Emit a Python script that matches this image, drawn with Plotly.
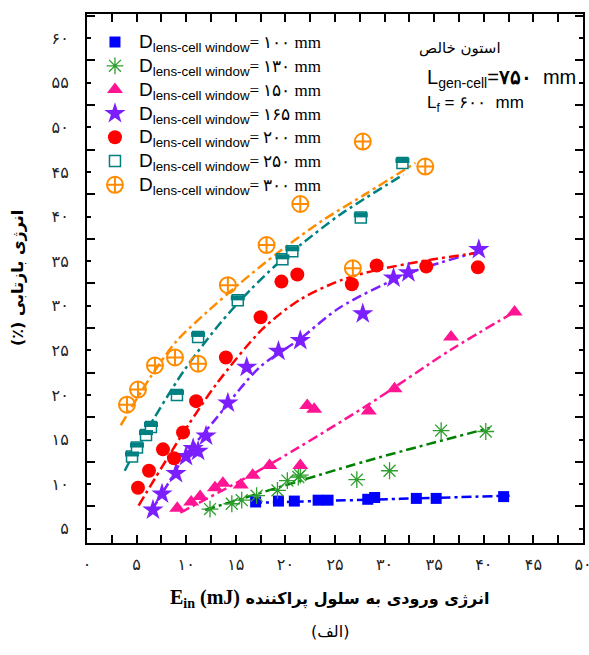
import plotly.graph_objects as go

# ---------------- data ----------------
x_tick_vals = [0, 5, 10, 15, 20, 25, 30, 35, 40, 45, 50]
x_tick_text = ['۰', '۵', '۱۰', '۱۵', '۲۰', '۲۵', '۳۰', '۳۵', '۴۰', '۴۵', '۵۰']
y_tick_vals = [5, 10, 15, 20, 25, 30, 35, 40, 45, 50, 55, 60]
y_tick_text = ['۵', '۱۰', '۱۵', '۲۰', '۲۵', '۳۰', '۳۵', '۴۰', '۴۵', '۵۰', '۵۵', '۶۰']

labels = ['۱۰۰', '۱۳۰', '۱۵۰', '۱۶۵', '۲۰۰', '۲۵۰', '۳۰۰']

d100_x = [17.0, 19.3, 20.9, 23.3, 24.3, 28.3, 29.0, 33.2, 35.2, 42.0]
d100_y = [8.0, 8.1, 8.1, 8.2, 8.2, 8.3, 8.5, 8.4, 8.4, 8.6]
d100_fit_x = [16.6, 31.6, 42.6]
d100_fit_y = [7.9, 8.35, 8.7]

d130_x = [12.4, 14.6, 15.6, 17.1, 19.2, 20.2, 21.3, 21.5, 27.2, 30.5, 35.7, 40.2]
d130_y = [7.2, 7.8, 8.2, 8.7, 9.3, 10.4, 10.8, 11.0, 10.5, 11.5, 16.0, 15.9]
d130_fit_x = [11.9, 28.2, 40.6]
d130_fit_y = [7.1, 12.6, 16.3]

d150_x = [9.1, 10.5, 11.4, 12.9, 13.7, 15.5, 16.7, 18.4, 21.5, 22.2, 22.9, 28.4, 31.0, 36.7, 43.1]
d150_y = [7.3, 8.0, 8.6, 9.6, 10.1, 9.9, 11.0, 12.1, 12.1, 18.8, 18.4, 18.2, 20.7, 26.5, 29.3]
d150_fit_x = [9.4, 18.1, 28.2, 36.6, 43.1]
d150_fit_y = [6.8, 12.0, 18.8, 25.0, 29.3]

d165_x = [6.65, 7.56, 8.97, 9.98, 10.7, 11.2, 12.0, 14.2, 16.1, 19.3, 21.5, 27.8, 30.9, 32.4, 39.5]
d165_y = [7.1, 8.9, 11.2, 13.1, 14.0, 13.7, 15.4, 19.1, 23.1, 24.9, 26.1, 29.1, 33.1, 33.7, 36.3]
d165_fit_x = [6.55, 8.2, 9.6, 12.9, 17.4, 21.5, 25.5, 32.6, 39.3]
d165_fit_y = [7.1, 10.1, 12.7, 17.2, 23.1, 26.3, 29.8, 33.7, 36.0]

d200_x = [5.14, 6.25, 7.66, 8.77, 9.68, 11.0, 14.0, 17.5, 19.6, 21.2, 26.7, 29.2, 34.2, 39.4]
d200_y = [9.6, 11.5, 13.9, 12.9, 15.8, 19.3, 24.2, 28.7, 32.7, 33.5, 32.4, 34.5, 34.4, 34.3]
d200_fit_x = [5.2, 8.1, 10.2, 13.1, 17.7, 21.5, 25.7, 29.2, 34.9, 39.3]
d200_fit_y = [7.6, 12.9, 16.6, 21.3, 27.4, 30.7, 32.9, 34.0, 35.2, 35.9]

d250_x = [4.54, 5.04, 5.95, 6.45, 9.07, 11.2, 15.2, 19.7, 20.7, 27.6, 31.8]
d250_y = [13.1, 14.1, 15.5, 16.4, 20.0, 26.5, 30.6, 35.2, 36.1, 39.9, 46.0]
d250_fit_x = [3.8, 5.6, 9.7, 13.4, 16.4, 19.2, 21.5, 25.5, 31.9]
d250_fit_y = [11.5, 15.2, 22.6, 28.0, 31.7, 34.7, 36.8, 40.2, 44.7]

d300_x = [4.03, 5.14, 6.85, 8.87, 11.2, 14.2, 18.1, 21.5, 26.8, 27.8, 34.1]
d300_y = [18.9, 20.6, 23.3, 24.2, 23.5, 32.3, 36.8, 41.4, 34.2, 48.4, 45.6]
d300_fit_x = [3.4, 6.4, 9.0, 12.1, 15.4, 19.2, 23.8, 28.2, 33.1]
d300_fit_y = [16.6, 22.0, 26.0, 29.3, 32.5, 35.9, 39.6, 42.6, 46.0]

# ---------------- style ----------------
X_RANGE = [0, 50]
Y_RANGE = [3.4, 62.7]
DASH = '10px,4px,3px,4px'

series = [
    dict(x=d100_x, y=d100_y, fx=d100_fit_x, fy=d100_fit_y, lab=labels[0],
         mc='#0000FF', lc='#0000FF', sym='square', size=11, lw=0),
    dict(x=d130_x, y=d130_y, fx=d130_fit_x, fy=d130_fit_y, lab=labels[1],
         mc='#2E9E2E', lc='#008000', sym='asterisk-open', size=14, lw=1.3),
    dict(x=d150_x, y=d150_y, fx=d150_fit_x, fy=d150_fit_y, lab=labels[2],
         mc='#FF1493', lc='#FF1493', sym='triangle-up', size=14, lw=0),
    dict(x=d165_x, y=d165_y, fx=d165_fit_x, fy=d165_fit_y, lab=labels[3],
         mc='#7B1FFF', lc='#7B1FFF', sym='star', size=16, lw=0),
    dict(x=d200_x, y=d200_y, fx=d200_fit_x, fy=d200_fit_y, lab=labels[4],
         mc='#FF0000', lc='#FF0000', sym='circle', size=14, lw=0),
    dict(x=d250_x, y=d250_y, fx=d250_fit_x, fy=d250_fit_y, lab=labels[5],
         mc='#008080', lc='#008080', sym='square', size=11, lw=1.5),
    dict(x=d300_x, y=d300_y, fx=d300_fit_x, fy=d300_fit_y, lab=labels[6],
         mc='#FF8C00', lc='#FF8C00', sym='circle-cross-open', size=16, lw=2),
]

fig = go.Figure()

# fitted trend lines (below markers)
for s in series:
    fig.add_trace(go.Scatter(
        x=s['fx'], y=s['fy'], mode='lines', showlegend=False, hoverinfo='skip',
        line=dict(color=s['lc'], width=2.5, dash=DASH, shape='spline', smoothing=0.8)))

# markers
for i, s in enumerate(series):
    name = ("<span style='font-size:19px'>D<sub>lens-cell window</sub></span>"
            "<span style='font-family:Liberation Serif;font-size:17px'>= " + s['lab'] + " mm</span>")
    if i == 5:
        marker = dict(symbol='square', size=s['size'], color='white',
                      line=dict(color=s['mc'], width=s['lw']))
    elif s['sym'].endswith('open'):
        marker = dict(symbol=s['sym'], size=s['size'], color=s['mc'],
                      line=dict(color=s['mc'], width=s['lw']))
    else:
        marker = dict(symbol=s['sym'], size=s['size'], color=s['mc'], line=dict(width=0))
    fig.add_trace(go.Scatter(x=s['x'], y=s['y'], mode='markers', name=name, marker=marker))

# top half fill of the 250 mm squares (drawn on a slightly shifted overlay axis)
fig.add_trace(go.Scatter(
    x=d250_x, y=d250_y, mode='markers', showlegend=False, yaxis='y2', hoverinfo='skip',
    marker=dict(symbol='line-ew', size=10, line=dict(color='#008080', width=5))))

axis_common = dict(
    showline=True, linecolor='black', linewidth=2, mirror='allticks', automargin=False,
    ticks='inside', tickcolor='black', tickwidth=2, showgrid=False, zeroline=False,
    ticklabeloverflow='allow',
    tickfont=dict(family='DejaVu Sans', size=16, color='#222222'),
)

fig.update_layout(
    width=589, height=655,
    margin=dict(l=87, r=6, t=14, b=112),
    paper_bgcolor='white', plot_bgcolor='white',
    xaxis=dict(range=X_RANGE, tickmode='array', tickvals=x_tick_vals, ticktext=x_tick_text,
               ticklen=8, ticklabelstandoff=6,
               minor=dict(tickmode='array', tickvals=[2.5 + 5 * k for k in range(10)],
                          ticklen=4, ticks='inside', tickcolor='black', tickwidth=2),
               **axis_common),
    yaxis=dict(range=Y_RANGE, tickmode='array', tickvals=y_tick_vals, ticktext=y_tick_text,
               ticklen=4, ticklabelstandoff=13,
               minor=dict(tickmode='array', tickvals=[2.5 + 5 * k for k in range(1, 13)],
                          ticklen=8, ticks='inside', tickcolor='black', tickwidth=2),
               **axis_common),
    yaxis2=dict(range=[Y_RANGE[0] - 0.28, Y_RANGE[1] - 0.28], overlaying='y', visible=False),
    legend=dict(x=0.008, y=0.979, xanchor='left', yanchor='top', bgcolor='rgba(0,0,0,0)',
                font=dict(family='Liberation Sans', size=16, color='black'),
                itemwidth=38, tracegroupgap=0),
    showlegend=True,
)

# annotations
fig.add_annotation(xref='paper', yref='paper', x=0.752, y=0.936, xanchor='center', yanchor='middle',
                   showarrow=False,
                   text='استون خالص', font=dict(family='DejaVu Sans', size=15, color='black'))
fig.add_annotation(xref='paper', yref='paper', x=0.681, y=0.879, xanchor='left', yanchor='middle',
                   showarrow=False,
                   text='L<sub>gen-cell</sub>=<b>۷۵۰</b>\u00a0\u00a0mm',
                   font=dict(family='Liberation Sans', size=20, color='black'))
fig.add_annotation(xref='paper', yref='paper', x=0.681, y=0.830, xanchor='left', yanchor='middle',
                   showarrow=False,
                   text='L<sub>f</sub> = ۶۰۰\u00a0\u00a0mm',
                   font=dict(family='Liberation Sans', size=17, color='black'))

fig.add_annotation(xref='paper', yref='paper', x=0.49, y=-0.104, yanchor='middle', showarrow=False,
                   text="<b><span style='font-family:Liberation Serif;font-size:20px'>E<sub>in</sub> (mJ)</span> انرژی ورودی به سلول پراکننده</b>",
                   font=dict(family='DejaVu Sans', size=16, color='black'))
fig.add_annotation(xref='paper', yref='paper', x=-0.14, y=0.50, xanchor='center', showarrow=False,
                   textangle=-90,
                   text='<b>(٪) انرژی بازتابی</b>',
                   font=dict(family='DejaVu Sans', size=16, color='black'))
fig.add_annotation(xref='paper', yref='paper', x=0.49, y=-0.168, yanchor='middle', showarrow=False,
                   text='(الف)', font=dict(family='DejaVu Sans', size=16, color='black'))

fig.write_html('out.html')
